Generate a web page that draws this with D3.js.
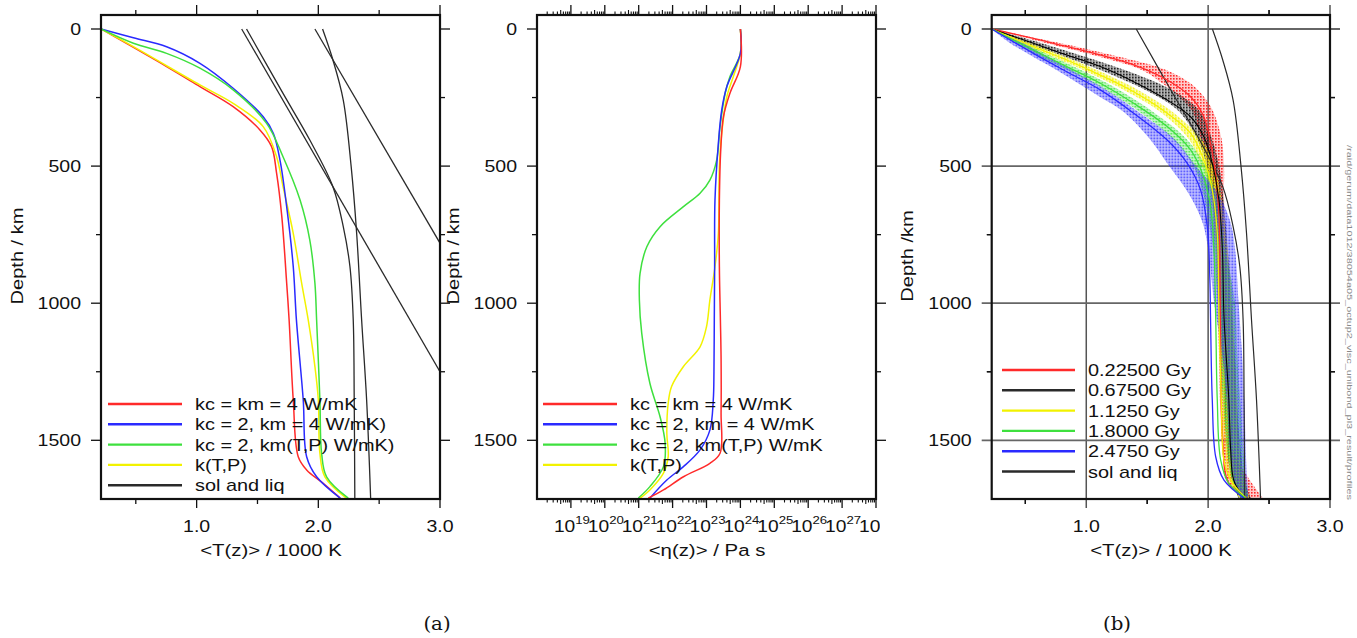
<!DOCTYPE html>
<html><head><meta charset="utf-8">
<script src="https://cdn.jsdelivr.net/npm/d3@7"></script>
<style>body{margin:0;background:#fff}</style>
</head><body>
<script>
// ---------------- DATA ----------------
const depthTicks = [0, 500, 1000, 1500];
const depthMinor = [250, 750, 1250];
const tempTicks = [1.0, 2.0, 3.0];
const tempMinor = [0.5, 1.5, 2.5];
const etaExpTicks = [19, 20, 21, 22, 23, 24, 25, 26, 27, 28];

const legendA = ["kc = km = 4 W/mK", "kc = 2, km = 4 W/mK)", "kc = 2, km(T,P) W/mK)", "k(T,P)", "sol and liq"];
const legendB = ["kc = km = 4 W/mK", "kc = 2, km = 4 W/mK", "kc = 2, km(T,P) W/mK", "k(T,P)"];
const legendC = ["0.22500 Gy", "0.67500 Gy", "1.1250 Gy", "1.8000 Gy", "2.4750 Gy", "sol and liq"];

// panel (a) left: <T(z)> [1000 K] vs depth [km]
const tRed = [[0.214,0],[0.753,137],[1.027,210],[1.30,283],[1.52,368],[1.616,429],[1.657,526],[1.70,684],[1.74,927],[1.76,1061],[1.794,1353],[1.835,1560],[1.904,1608],[2.04,1657],[2.18,1711]];
const tBlue = [[0.214,0],[0.48,32],[0.753,64.5],[1.027,125],[1.30,216],[1.547,320],[1.63,380],[1.685,478],[1.74,648],[1.794,867],[1.82,1061],[1.876,1353],[1.904,1560],[1.986,1633],[2.18,1711]];
const tGreen = [[0.214,0],[0.48,52],[0.753,89],[1.027,143],[1.30,222],[1.575,344],[1.71,466],[1.85,624],[1.93,770],[1.972,927],[1.986,1061],[2.013,1353],[2.027,1547],[2.068,1633],[2.246,1711]];
const tYellow = [[0.214,0],[0.48,64.5],[1.027,204],[1.30,271],[1.547,356],[1.657,466],[1.71,575],[1.794,745],[1.863,927],[1.917,1061],[1.972,1231],[2.0,1353],[2.013,1547],[2.054,1633],[2.23,1711]];
const solidus = [[1.41,0],[1.71,235],[1.93,405],[2.12,575],[2.205,721],[2.26,867],[2.287,1061],[2.295,1350],[2.30,1711]];
const liquidus = [[2.035,0],[2.12,113],[2.205,259],[2.27,502],[2.315,745],[2.356,1061],[2.397,1353],[2.43,1711]];
const solLinear = [[1.37,0],[3.0,1250]];
const liqLinear = [[1.972,0],[3.0,781]];

// panel (a) right: log10 <eta(z)> [Pa s] vs depth [km]
const etaRed = [[24.0,0],[24.0,137],[23.69,235],[23.5,320],[23.42,441],[23.38,624],[23.38,867],[23.41,1061],[23.43,1200],[23.43,1400],[23.40,1547],[23.10,1584],[22.32,1633],[21.73,1681],[21.28,1711]];
const etaBlue = [[24.0,0],[24.0,89],[23.6,210],[23.45,295],[23.35,417],[23.25,624],[23.24,867],[23.23,1061],[23.22,1250],[23.2,1353],[23.10,1463],[22.81,1535],[22.32,1596],[21.83,1645],[21.33,1711]];
const etaGreen = [[24.0,0],[24.0,89],[23.69,174],[23.55,235],[23.40,356],[23.30,478],[23.10,551],[22.81,599],[22.32,648],[21.63,721],[21.24,794],[21.04,891],[21.02,988],[21.09,1110],[21.33,1292],[21.63,1414],[21.78,1511],[21.73,1596],[21.33,1669],[20.99,1711]];
const etaYellow = [[24.0,0],[24.0,89],[23.79,174],[23.6,247],[23.45,380],[23.38,502],[23.35,745],[23.25,867],[23.10,988],[23.0,1086],[22.81,1159],[22.32,1231],[21.97,1304],[21.87,1365],[21.83,1475],[21.87,1560],[21.73,1620],[21.33,1681],[21.04,1711]];

// panel (b): mean profiles at five times
const c225 = [[0.224,0],[0.731,52],[1.389,131],[1.664,186],[1.856,247],[1.965,320],[2.02,417],[2.06,526],[2.089,684],[2.10,1049],[2.117,1475],[2.17,1657],[2.32,1711]];
const c675 = [[0.224,0],[0.566,52],[0.84,95],[1.115,137],[1.389,192],[1.664,259],[1.856,320],[1.965,393],[2.034,490],[2.089,624],[2.117,806],[2.13,1049],[2.17,1353],[2.185,1535],[2.21,1645],[2.295,1711]];
const c1125 = [[0.224,0],[0.566,64.5],[0.84,113],[1.115,168],[1.389,229],[1.664,307],[1.856,380],[1.965,478],[2.034,587],[2.075,745],[2.089,1049],[2.108,1353],[2.13,1572],[2.185,1645],[2.31,1711]];
const c1800 = [[0.224,0],[0.566,77],[0.84,137],[1.115,198],[1.389,271],[1.664,356],[1.856,441],[1.952,526],[2.02,648],[2.048,806],[2.062,1049],[2.075,1353],[2.103,1572],[2.17,1657],[2.31,1711]];
const c2475 = [[0.224,0],[0.566,89],[0.84,156],[1.115,222],[1.389,307],[1.664,405],[1.829,490],[1.938,587],[1.993,721],[2.015,927],[2.02,1061],[2.034,1353],[2.062,1560],[2.13,1645],[2.295,1711]];
// scatter spread of local temperatures: [depth, lowest T, highest T]
const s225 = [[0,0.224,0.224],[50,0.66,0.77],[100,1.10,1.26],[150,1.46,1.66],[200,1.63,1.86],[250,1.77,1.97],[300,1.87,2.04],[400,1.94,2.11],[500,2.0,2.13],[600,2.03,2.13],[800,2.07,2.14],[1000,2.08,2.16],[1200,2.09,2.17],[1400,2.10,2.18],[1550,2.12,2.22],[1650,2.15,2.35],[1711,2.3,2.45]];
const s675 = [[0,0.224,0.224],[50,0.5,0.62],[100,0.82,0.98],[150,1.12,1.32],[200,1.38,1.6],[250,1.6,1.8],[300,1.76,1.93],[400,1.91,2.03],[500,1.99,2.09],[600,2.03,2.12],[800,2.08,2.16],[1000,2.10,2.19],[1200,2.12,2.22],[1400,2.14,2.24],[1550,2.16,2.27],[1650,2.2,2.3],[1711,2.25,2.35]];
const s1125 = [[0,0.224,0.224],[50,0.45,0.53],[100,0.72,0.82],[150,0.98,1.09],[200,1.21,1.33],[250,1.42,1.53],[300,1.6,1.7],[400,1.84,1.94],[500,1.95,2.05],[600,2.02,2.1],[800,2.06,2.16],[1000,2.08,2.2],[1200,2.1,2.22],[1400,2.12,2.24],[1550,2.14,2.26],[1650,2.18,2.3],[1711,2.26,2.34]];
const s1800 = [[0,0.224,0.224],[50,0.41,0.48],[100,0.62,0.72],[150,0.85,0.96],[200,1.07,1.18],[250,1.26,1.37],[300,1.43,1.54],[400,1.71,1.82],[500,1.88,1.98],[600,1.96,2.06],[800,2.04,2.14],[1000,2.08,2.22],[1200,2.1,2.24],[1400,2.13,2.27],[1550,2.16,2.29],[1650,2.2,2.31],[1711,2.27,2.33]];
const s2475 = [[0,0.224,0.224],[50,0.37,0.47],[100,0.56,0.68],[150,0.76,0.88],[200,0.94,1.08],[250,1.12,1.26],[300,1.30,1.42],[400,1.52,1.72],[500,1.68,1.90],[600,1.84,2.08],[700,1.95,2.18],[800,2.0,2.22],[1000,2.05,2.25],[1200,2.12,2.28],[1400,2.16,2.30],[1550,2.18,2.31],[1650,2.21,2.32],[1711,2.27,2.33]];

const pathLabel = "/raid/gerum/data1012/38054a05_octup2_visc_unibond_pl3_result/profiles";

// ---------------- STYLE / LAYOUT ----------------
const SANS = "'Liberation Sans', Arial, Helvetica, sans-serif";
const SERIF = "'DejaVu Serif', 'Liberation Serif', serif";
const RED = "#ff2a2a", BLUE = "#2a2aff", GREEN = "#3ee03e", YELLOW = "#f2f200", BLK = "#2a2a2a";
const FT = 15, FB = 499;
const SX = 1.22;
const SMOOTH = d3.curveCatmullRom.alpha(0.5);

const svg = d3.select("body").append("svg").attr("width", 1357).attr("height", 638).style("background", "#fff");
const defs = svg.append("defs");

const y = d3.scaleLinear().domain([0, 1500]).range([29, 440.3]);
const xA = d3.scaleLinear().domain([0.214, 3.0]).range([101, 440]);
const xB = d3.scaleLog().domain([1e18, 1e28]).range([537, 876]);
const xC = d3.scaleLinear().domain([0.224, 3.0]).range([991.7, 1330]);

function txt(parent, x, yy, s, o = {}) {
  const t = parent.append("text")
    .attr("transform", `translate(${x},${yy}) rotate(${o.rot || 0}) scale(${o.sx || SX},1)`)
    .attr("text-anchor", o.anchor || "middle")
    .attr("font-size", o.size || 16)
    .attr("font-family", o.family || SANS)
    .attr("fill", o.fill || "#111");
  if (s !== null) t.text(s);
  return t;
}
function clip(id, L, R) {
  defs.append("clipPath").attr("id", id).append("rect")
    .attr("x", L).attr("y", FT).attr("width", R - L).attr("height", FB - FT);
}
function seg(g, x1, y1, x2, y2, w = 1.3, c = "#111") {
  g.append("line").attr("x1", x1).attr("y1", y1).attr("x2", x2).attr("y2", y2)
    .attr("stroke", c).attr("stroke-width", w);
}
function frame(g, L, R) {
  g.append("rect").attr("x", L).attr("y", FT).attr("width", R - L).attr("height", FB - FT)
    .attr("fill", "none").attr("stroke", "#111").attr("stroke-width", 2.2);
}
function yAxisTicks(g, L, R, major = true) {
  depthTicks.forEach(d => {
    if (major) { seg(g, L - 10, y(d), L, y(d)); seg(g, R, y(d), R + 10, y(d)); }
    txt(g, L - 20, y(d) + 6, String(d), { anchor: "end" });
  });
  depthMinor.forEach(d => { seg(g, L - 5, y(d), L, y(d)); seg(g, R, y(d), R + 5, y(d)); });
}
function tempXTicks(g, xs, major = true) {
  tempTicks.forEach(t => {
    if (major) { seg(g, xs(t), FT - 10, xs(t), FT); seg(g, xs(t), FB, xs(t), FB + 9); }
    txt(g, xs(t), 532, t.toFixed(1));
  });
  tempMinor.forEach(t => { seg(g, xs(t), FT - 5, xs(t), FT); seg(g, xs(t), FB, xs(t), FB + 5); });
}
function drawLines(g, list, xf, clipId, w = 1.5) {
  const gl = g.append("g").attr("clip-path", `url(#${clipId})`);
  list.forEach(([data, col, curve, lw]) => {
    const line = d3.line().x(d => xf(d[0])).y(d => y(d[1])).curve(curve || SMOOTH);
    gl.append("path").datum(data).attr("d", line).attr("fill", "none")
      .attr("stroke", col).attr("stroke-width", lw || w).attr("stroke-linejoin", "round");
  });
}
function legend(g, x0, x1, tx, y0, dy, labels, colors, size) {
  labels.forEach((lab, i) => {
    const yy = y0 + i * dy;
    seg(g, x0, yy, x1, yy, 2.4, colors[i]);
    txt(g, tx, yy + 6, lab, { anchor: "start", size: size, sx: 1.17 });
  });
}

// ---------------- PANEL A (temperature) ----------------
const gA = svg.append("g");
clip("clipA", 101, 440);
drawLines(gA, [
  [solLinear, BLK, d3.curveLinear, 1.3], [liqLinear, BLK, d3.curveLinear, 1.3],
  [solidus, BLK, null, 1.3], [liquidus, BLK, null, 1.3],
  [tRed, RED], [tYellow, YELLOW], [tBlue, BLUE], [tGreen, GREEN]
], xA, "clipA");
legend(gA, 108, 182, 195, 404, 20.3, legendA, [RED, BLUE, GREEN, YELLOW, BLK], 17);
frame(gA, 101, 440);
yAxisTicks(gA, 101, 440);
tempXTicks(gA, xA);
txt(gA, 271, 556, "<T(z)> / 1000 K", { size: 17, sx: 1.2 });
txt(gA, 23, 256, "Depth / km", { size: 17, rot: -90, sx: 1.18 });

// ---------------- PANEL A (viscosity) ----------------
const gB = svg.append("g");
clip("clipB", 537, 876);
const xEta = v => xB(Math.pow(10, v));
drawLines(gB, [[etaGreen, GREEN], [etaYellow, YELLOW], [etaBlue, BLUE], [etaRed, RED]], xEta, "clipB");
legend(gB, 543, 617, 630, 404, 20.3, legendB, [RED, BLUE, GREEN, YELLOW], 17);
frame(gB, 537, 876);
yAxisTicks(gB, 537, 876);
for (let k = 18; k < 28; k++) {
  for (let m = 2; m <= 9; m++) {
    const xx = xB(m * Math.pow(10, k));
    const len = m === 5 ? 5 : 3.5;
    seg(gB, xx, FT - len, xx, FT, 1.1); seg(gB, xx, FB, xx, FB + len, 1.1);
  }
}
defs.append("clipPath").attr("id", "clipBL").append("rect").attr("x", 445).attr("y", 500).attr("width", 435).attr("height", 40);
const gBL = gB.append("g").attr("clip-path", "url(#clipBL)");
etaExpTicks.forEach(e => {
  const xx = xB(Math.pow(10, e));
  seg(gB, xx, FT - 10, xx, FT); seg(gB, xx, FB, xx, FB + 9);
  const t = txt(gBL, xx + 1, 532, null, { sx: 1.2 });
  t.append("tspan").text("10");
  t.append("tspan").attr("dy", -8).attr("font-size", 11).text(String(e));
});
const etaLab = txt(gB, 707, 556, null, { size: 17, sx: 1.2 });
etaLab.text("<η(z)> / Pa s");
txt(gB, 459, 256, "Depth / km", { size: 17, rot: -90, sx: 1.18 });

// ---------------- PANEL B ----------------
const gC = svg.append("g");
clip("clipC", 991.7, 1330);
// grid (major ticks drawn through the frame)
tempTicks.forEach(t => seg(gC, xC(t), 5, xC(t), 508, 1.5, "#555"));
depthTicks.forEach(d => seg(gC, 981.7, y(d), 1340, y(d), d === 0 ? 2.2 : 1.7, "#666"));
depthMinor.forEach(d => { seg(gC, 987, y(d), 991.7, y(d)); seg(gC, 1330, y(d), 1335, y(d)); });
tempMinor.forEach(t => { seg(gC, xC(t), FT - 5, xC(t), FT); seg(gC, xC(t), FB, xC(t), FB + 5); });

const bandSpecs = [[s225, RED, "pR", 0, 0.25], [s675, "#111", "pK", 1, 0.3], [s1125, YELLOW, "pY", 2, 0.3], [s1800, GREEN, "pG", 0.5, 0.25], [s2475, BLUE, "pB", 1.5, 0.25]];
bandSpecs.forEach(([, col, id, off]) => {
  const p = defs.append("pattern").attr("id", id).attr("patternUnits", "userSpaceOnUse")
    .attr("width", 3).attr("height", 3).attr("patternTransform", `translate(${off},${off * 1.7})`);
  p.append("rect").attr("x", 0).attr("y", 0).attr("width", 1.6).attr("height", 1.6).attr("fill", col);
});
const gBands = gC.append("g").attr("clip-path", "url(#clipC)");
bandSpecs.forEach(([data, col, id, , op]) => {
  const area = d3.area().y(d => y(d[0])).x0(d => xC(d[1])).x1(d => xC(d[2])).curve(SMOOTH);
  gBands.append("path").datum(data).attr("d", area).attr("fill", col).attr("fill-opacity", op);
  gBands.append("path").datum(data).attr("d", area).attr("fill", `url(#${id})`);
});
drawLines(gC, [
  [solidus, BLK, null, 1.2], [liquidus, BLK, null, 1.2],
  [c225, RED, null, 1.3], [c675, "#000", null, 1.1], [c1125, YELLOW, null, 1.3], [c1800, GREEN, null, 1.3], [c2475, BLUE, null, 1.3]
], xC, "clipC");
legend(gC, 1002, 1075, 1088, 370, 20.3, legendC, [RED, BLK, YELLOW, GREEN, BLUE, BLK], 17);
frame(gC, 991.7, 1330);
yAxisTicks(gC, 991.7, 1330, false);
tempXTicks(gC, xC, false);
txt(gC, 1161, 556, "<T(z)> / 1000 K", { size: 17, sx: 1.2 });
txt(gC, 913, 256, "Depth /km", { size: 17, rot: -90, sx: 1.18 });
txt(gC, 1347, 145, pathLabel, { size: 8, rot: 90, anchor: "start", sx: 1, fill: "#888" })
  .attr("textLength", 355).attr("lengthAdjust", "spacingAndGlyphs");

// ---------------- subcaptions ----------------
txt(svg, 437, 630, "(a)", { family: SERIF, size: 18, sx: 1.1 });
txt(svg, 1117, 630, "(b)", { family: SERIF, size: 18, sx: 1.1 });
</script>
</body></html>
